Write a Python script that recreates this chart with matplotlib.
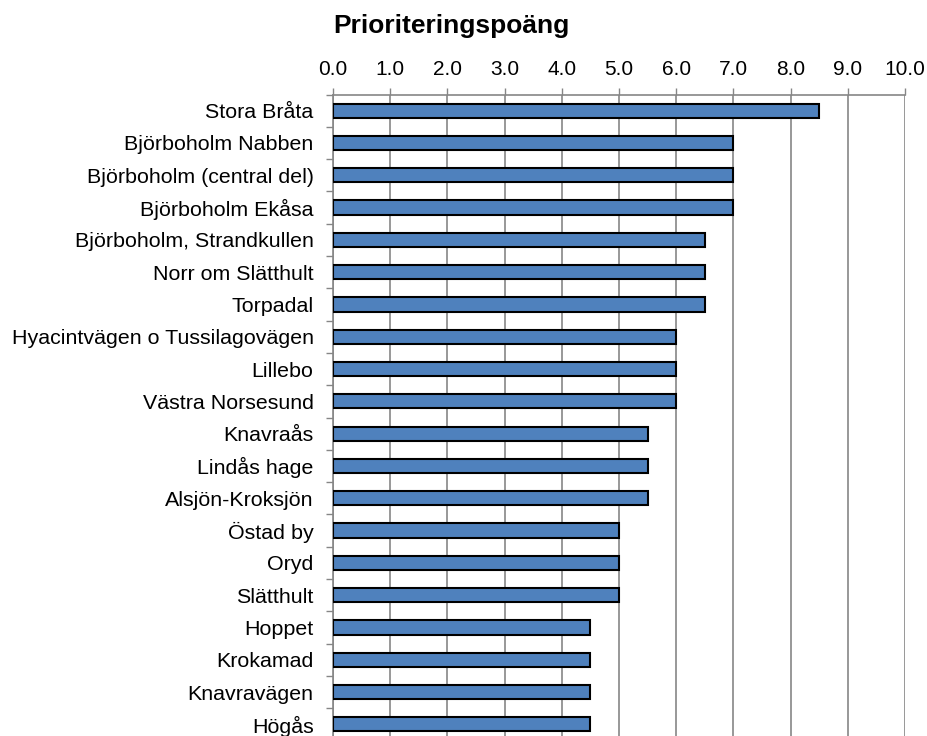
import matplotlib
matplotlib.use("Agg")
import matplotlib.pyplot as plt
import numpy as np
from matplotlib.ticker import FixedLocator

plt.rcParams['font.family'] = ['Liberation Sans', 'DejaVu Sans']

categories = [
    "Stora Bråta", "Björboholm Nabben", "Björboholm (central del)", "Björboholm Ekåsa",
    "Björboholm, Strandkullen", "Norr om Slätthult", "Torpadal",
    "Hyacintvägen o Tussilagovägen", "Lillebo", "Västra Norsesund",
    "Knavraås", "Lindås hage", "Alsjön-Kroksjön",
    "Östad by", "Oryd", "Slätthult",
    "Hoppet", "Krokamad", "Knavravägen", "Högås",
]
values = [8.5, 7.0, 7.0, 7.0, 6.5, 6.5, 6.5, 6.0, 6.0, 6.0,
          5.5, 5.5, 5.5, 5.0, 5.0, 5.0, 4.5, 4.5, 4.5, 4.5]
xticks = [0.0, 1.0, 2.0, 3.0, 4.0, 5.0, 6.0, 7.0, 8.0, 9.0, 10.0]
title = "Prioriteringspoäng"

fig = plt.figure(figsize=(9.28, 7.36), dpi=100)
W, H = 928, 736
left, right, top, bottom = 333, 905, 94.5, 740.5
ax = fig.add_axes([left / W, 1 - bottom / H, (right - left) / W, (bottom - top) / H])

grid_col = "#868686"
y = np.arange(len(categories))
ax.barh(y, values, height=0.44, color="#4F81BD", edgecolor="black", linewidth=1.5, zorder=3)

ax.set_xlim(0, 10)
ax.set_ylim(len(categories) - 0.5, -0.5)

ax.xaxis.tick_top()
ax.set_xticks(xticks)
ax.set_xticklabels([f"{t:.1f}" for t in xticks], fontsize=15)
ax.tick_params(axis='x', length=5, width=1, color=grid_col, pad=6)
ax.grid(axis='x', color=grid_col, linewidth=1.2, zorder=0)

ax.set_yticks(y)
ax.set_yticklabels(categories, fontsize=15.4)
ax.tick_params(axis='y', which='major', length=0, pad=14)
ax.yaxis.set_minor_locator(FixedLocator(np.arange(-0.5, len(categories) + 0.5, 1.0)))
ax.tick_params(axis='y', which='minor', length=5, width=1, color=grid_col)

for s in ['top', 'left']:
    ax.spines[s].set_color(grid_col)
    ax.spines[s].set_linewidth(1.2)
for s in ['right', 'bottom']:
    ax.spines[s].set_visible(False)

fig.text(451 / W, 1 - 33.5 / H, title, fontsize=19, fontweight='bold', ha='center', va='baseline')

fig.savefig("out.png", dpi=100)
